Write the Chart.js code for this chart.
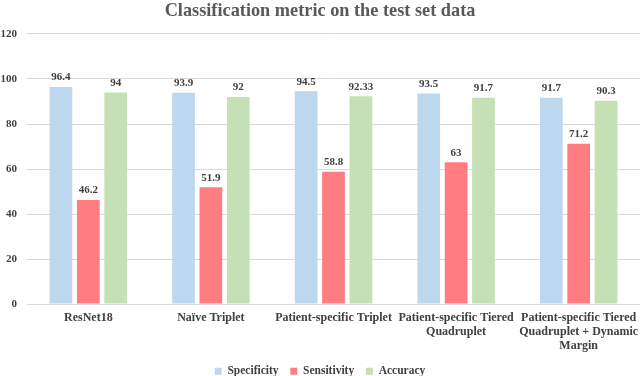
<!DOCTYPE html>
<html>
<head>
<meta charset="utf-8">
<script src="https://cdn.jsdelivr.net/npm/chart.js@4"></script>
<style>
    html, body { margin: 0; padding: 0; background: #fff; }
    #wrap { width: 640px; height: 376px; }
</style>
</head>
<body>
<div id="wrap"><canvas id="metrics"></canvas></div>
<script>
const categories = [
    'ResNet18',
    'Naïve Triplet',
    'Patient-specific Triplet',
    ['Patient-specific Tiered', 'Quadruplet'],
    ['Patient-specific Tiered', 'Quadruplet + Dynamic', 'Margin']
];
const specificity = [96.4, 93.9, 94.5, 93.5, 91.7];
const sensitivity = [46.2, 51.9, 58.8, 63, 71.2];
const accuracy = [94, 92, 92.33, 91.7, 90.3];

const serif = '"Liberation Serif", "Times New Roman", serif';

// draws the number above every bar
const valueLabels = {
    id: 'valueLabels',
    afterDatasetsDraw(chart) {
        const ctx = chart.ctx;
        ctx.save();
        ctx.font = 'bold 11px ' + serif;
        ctx.fillStyle = '#404040';
        ctx.textAlign = 'center';
        ctx.textBaseline = 'bottom';
        chart.data.datasets.forEach((ds, i) => {
            chart.getDatasetMeta(i).data.forEach((bar, j) => {
                ctx.fillText(ds.data[j], bar.x, bar.y - 4);
            });
        });
        ctx.restore();
    }
};

new Chart(document.getElementById('metrics'), {
    type: 'bar',
    data: {
        labels: categories,
        datasets: [
            { label: 'Specificity', data: specificity, backgroundColor: '#bdd7ee' },
            { label: 'Sensitivity', data: sensitivity, backgroundColor: '#ff7c80' },
            { label: 'Accuracy', data: accuracy, backgroundColor: '#c5e0b4' }
        ]
    },
    options: {
        responsive: true,
        maintainAspectRatio: false,
        animation: false,
        categoryPercentage: 0.67,
        barPercentage: 0.83,
        layout: { padding: { left: 0, right: 0, top: 0, bottom: -11 } },
        plugins: {
            title: {
                display: true,
                text: 'Classification metric on the test set data',
                color: '#595959',
                font: { family: serif, size: 18.3, weight: 'bold' },
                padding: { top: 0, bottom: 12 }
            },
            legend: {
                position: 'bottom',
                labels: {
                    boxWidth: 7,
                    boxHeight: 7,
                    padding: 6,
                    color: '#404040',
                    font: { family: serif, size: 11.5, weight: 'bold' },
                    // a bit more room between the items, as in the original
                    generateLabels(chart) {
                        const items = Chart.defaults.plugins.legend.labels.generateLabels(chart);
                        items.forEach((item, i) => {
                            if (i < items.length - 1) item.text += '  ';
                        });
                        return items;
                    }
                }
            },
            tooltip: { enabled: false }
        },
        scales: {
            x: {
                afterFit(scale) { scale.paddingLeft = 0; scale.paddingRight = 0; },
                grid: { display: false, drawTicks: false, tickLength: 0 },
                border: { display: false },
                ticks: {
                    maxRotation: 0,
                    autoSkip: false,
                    padding: 7,
                    color: '#404040',
                    font: { family: serif, size: 12, weight: 'bold', lineHeight: 1.15 }
                }
            },
            y: {
                min: 0,
                max: 120,
                afterFit(scale) { scale.width = 27; },
                ticks: {
                    stepSize: 20,
                    padding: 10,
                    color: '#404040',
                    font: { family: serif, size: 11, weight: 'bold' }
                },
                grid: { color: '#d9d9d9', drawTicks: false, tickLength: 0 },
                border: { display: false }
            }
        }
    },
    plugins: [valueLabels]
});
</script>
</body>
</html>
